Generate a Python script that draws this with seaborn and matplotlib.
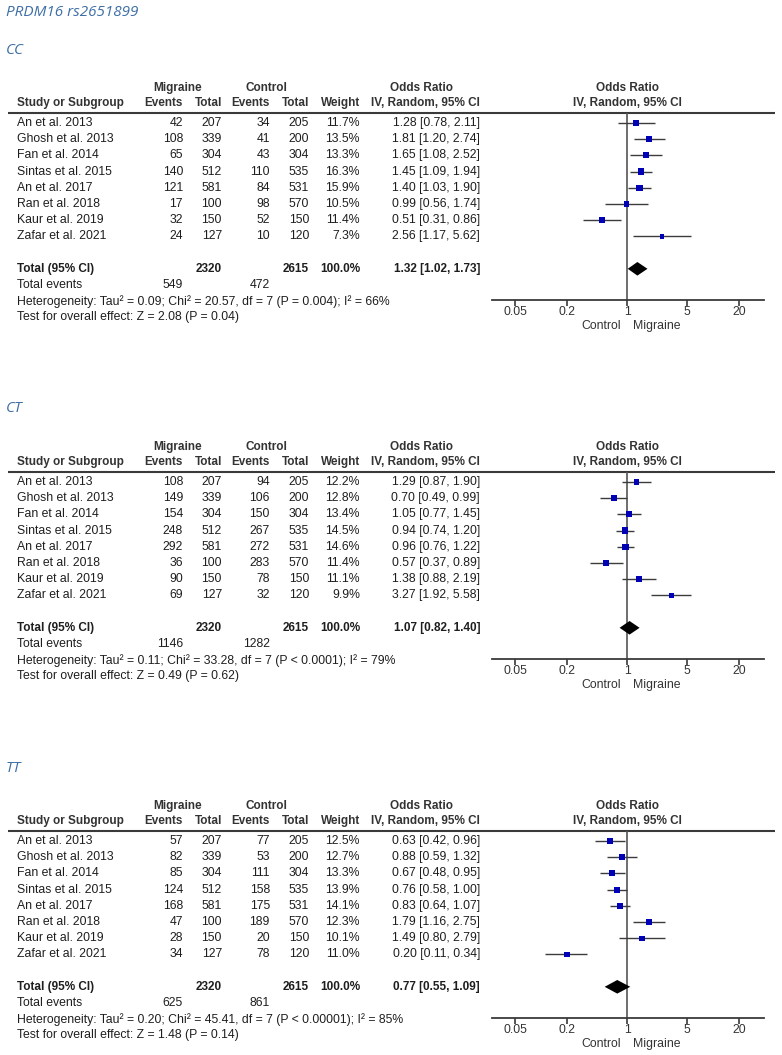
import matplotlib
matplotlib.use("Agg")
import numpy as np
import pandas as pd
import seaborn as sns
import matplotlib.pyplot as plt
from matplotlib.ticker import NullLocator

# data
studies = ["An et al. 2013", "Ghosh et al. 2013", "Fan et al. 2014", "Sintas et al. 2015",
           "An et al. 2017", "Ran et al. 2018", "Kaur et al. 2019", "Zafar et al. 2021"]
mig_total = [207, 339, 304, 512, 581, 100, 150, 127]
ctl_total = [205, 200, 304, 535, 531, 570, 150, 120]
total_weight = 100.0

cc_mig_events = [42, 108, 65, 140, 121, 17, 32, 24]
cc_ctl_events = [34, 41, 43, 110, 84, 98, 52, 10]
cc_weight = [11.7, 13.5, 13.3, 16.3, 15.9, 10.5, 11.4, 7.3]
cc_or = [1.28, 1.81, 1.65, 1.45, 1.40, 0.99, 0.51, 2.56]
cc_lo = [0.78, 1.20, 1.08, 1.09, 1.03, 0.56, 0.31, 1.17]
cc_hi = [2.11, 2.74, 2.52, 1.94, 1.90, 1.74, 0.86, 5.62]
cc_total = [1.32, 1.02, 1.73]
cc_total_events = [549, 472]
cc_het = "Heterogeneity: Tau² = 0.09; Chi² = 20.57, df = 7 (P = 0.004); I² = 66%"
cc_test = "Test for overall effect: Z = 2.08 (P = 0.04)"

ct_mig_events = [108, 149, 154, 248, 292, 36, 90, 69]
ct_ctl_events = [94, 106, 150, 267, 272, 283, 78, 32]
ct_weight = [12.2, 12.8, 13.4, 14.5, 14.6, 11.4, 11.1, 9.9]
ct_or = [1.29, 0.70, 1.05, 0.94, 0.96, 0.57, 1.38, 3.27]
ct_lo = [0.87, 0.49, 0.77, 0.74, 0.76, 0.37, 0.88, 1.92]
ct_hi = [1.90, 0.99, 1.45, 1.20, 1.22, 0.89, 2.19, 5.58]
ct_total = [1.07, 0.82, 1.40]
ct_total_events = [1146, 1282]
ct_het = "Heterogeneity: Tau² = 0.11; Chi² = 33.28, df = 7 (P < 0.0001); I² = 79%"
ct_test = "Test for overall effect: Z = 0.49 (P = 0.62)"

tt_mig_events = [57, 82, 85, 124, 168, 47, 28, 34]
tt_ctl_events = [77, 53, 111, 158, 175, 189, 20, 78]
tt_weight = [12.5, 12.7, 13.3, 13.9, 14.1, 12.3, 10.1, 11.0]
tt_or = [0.63, 0.88, 0.67, 0.76, 0.83, 1.79, 1.49, 0.20]
tt_lo = [0.42, 0.59, 0.48, 0.58, 0.64, 1.16, 0.80, 0.11]
tt_hi = [0.96, 1.32, 0.95, 1.00, 1.07, 2.75, 2.79, 0.34]
tt_total = [0.77, 0.55, 1.09]
tt_total_events = [625, 861]
tt_het = "Heterogeneity: Tau² = 0.20; Chi² = 45.41, df = 7 (P < 0.00001); I² = 85%"
tt_test = "Test for overall effect: Z = 1.48 (P = 0.14)"

tick_vals = [0.05, 0.2, 1, 5, 20]
tick_labels = ["0.05", "0.2", "1", "5", "20"]

panels = [
    ("CC", cc_mig_events, cc_ctl_events, cc_weight, cc_or, cc_lo, cc_hi, cc_total, cc_total_events, cc_het, cc_test),
    ("CT", ct_mig_events, ct_ctl_events, ct_weight, ct_or, ct_lo, ct_hi, ct_total, ct_total_events, ct_het, ct_test),
    ("TT", tt_mig_events, tt_ctl_events, tt_weight, tt_or, tt_lo, tt_hi, tt_total, tt_total_events, tt_het, tt_test),
]

sns.set_theme(style="white")
plt.rcParams["font.family"] = ["Liberation Sans", "DejaVu Sans"]

W, H = 782, 1055
fig = plt.figure(figsize=(W / 100, H / 100), dpi=100)
fig.patch.set_facecolor("white")

tab = fig.add_axes([0, 0, 1, 1])
tab.set_xlim(0, W)
tab.set_ylim(H, 0)
tab.axis("off")

BLUE_T = "#3d6ea6"
TXT = "#1e1e1e"
HDR = "#333333"
FS = 8.5
FSN = 8.85
ROW = 16.2
PANEL = 359

tab.text(6, 12, "PRDM16 rs2651899", fontsize=11, style="italic", color=BLUE_T,
         family=["Open Sans", "DejaVu Sans"], va="center", ha="left")

# column right edges
c_me, c_mt, c_ce, c_ct, c_w, c_or = 183, 222, 270, 309, 360, 480

for p, (lab, me, ce, w, orv, lo, hi, tot, tev, het, test) in enumerate(panels):
    off = PANEL * p
    base = 123 + off

    tab.text(6, 50 + off, lab, fontsize=11, style="italic", color=BLUE_T,
             family=["Open Sans", "DejaVu Sans"], va="center", ha="left")

    # headers
    hb = dict(fontsize=FS, fontweight="bold", color=HDR, va="center")
    tab.text(178, base - 35, "Migraine", ha="center", **hb)
    tab.text(266, base - 35, "Control", ha="center", **hb)
    tab.text(421, base - 35, "Odds Ratio", ha="center", **hb)
    tab.text(627, base - 35, "Odds Ratio", ha="center", **hb)
    tab.text(17, base - 20, "Study or Subgroup", ha="left", **hb)
    tab.text(c_me, base - 20, "Events", ha="right", **hb)
    tab.text(c_mt, base - 20, "Total", ha="right", **hb)
    tab.text(c_ce, base - 20, "Events", ha="right", **hb)
    tab.text(c_ct, base - 20, "Total", ha="right", **hb)
    tab.text(c_w, base - 20, "Weight", ha="right", **hb)
    tab.text(c_or, base - 20, "IV, Random, 95% CI", ha="right", **hb)
    tab.text(627, base - 20, "IV, Random, 95% CI", ha="center", **hb)
    tab.plot([8, 775], [base - 10, base - 10], color="#3a3a3a", lw=1.5, solid_capstyle="butt")

    nt = dict(fontsize=FSN, color=TXT, va="center")
    for i, s in enumerate(studies):
        y = base + i * ROW
        tab.text(17, y, s, ha="left", **nt)
        tab.text(c_me, y, f"{me[i]}", ha="right", **nt)
        tab.text(c_mt, y, f"{mig_total[i]}", ha="right", **nt)
        tab.text(c_ce, y, f"{ce[i]}", ha="right", **nt)
        tab.text(c_ct, y, f"{ctl_total[i]}", ha="right", **nt)
        tab.text(c_w, y, f"{w[i]:.1f}%", ha="right", **nt)
        tab.text(c_or, y, f"{orv[i]:.2f} [{lo[i]:.2f}, {hi[i]:.2f}]", ha="right", **nt)

    yt = base + 9 * ROW
    bt = dict(fontsize=FS, fontweight="bold", color=TXT, va="center")
    tab.text(17, yt, "Total (95% CI)", ha="left", **bt)
    tab.text(c_mt, yt, f"{sum(mig_total)}", ha="right", **bt)
    tab.text(c_ct, yt, f"{sum(ctl_total)}", ha="right", **bt)
    tab.text(c_w, yt, f"{total_weight:.1f}%", ha="right", **bt)
    tab.text(c_or, yt, f"{tot[0]:.2f} [{tot[1]:.2f}, {tot[2]:.2f}]", ha="right", **bt)
    tab.text(17, base + 10 * ROW, "Total events", ha="left", **nt)
    tab.text(c_me, base + 10 * ROW, f"{tev[0]}", ha="right", **nt)
    tab.text(c_ce, base + 10 * ROW, f"{tev[1]}", ha="right", **nt)
    tab.text(17, base + 11 * ROW, het, ha="left", **nt)
    tab.text(17, base + 12 * ROW, test, ha="left", **nt)

    tab.text(621, 326 + off, "Control", ha="right", fontsize=FSN, color=HDR, va="center")
    tab.text(633, 326 + off, "Migraine", ha="left", fontsize=FSN, color=HDR, va="center")

    # forest plot
    ax = fig.add_axes([492 / W, 1 - (300 + off) / H, (764 - 492) / W, (300 - 113) / H])
    ax.set_facecolor("none")
    ax.set_xscale("log")
    ax.set_xlim(10 ** -1.57, 10 ** 1.593)
    ax.set_ylim((300 - 123) / ROW, (113 - 123) / ROW)

    df = pd.DataFrame({"or": orv, "lo": lo, "hi": hi, "w": w, "row": np.arange(len(studies))})
    ax.axvline(1, color="#555555", lw=1.2, zorder=1)
    ax.hlines(df["row"], df["lo"], df["hi"], color="#3c3c3c", lw=1.0, zorder=2)
    sns.scatterplot(data=df, x="or", y="row", size="w", sizes=(min(w) * 1.4, max(w) * 1.4),
                    marker="s", color="#0000b4", edgecolor="none", legend=False, ax=ax, zorder=3)
    ax.fill([tot[1], tot[0], tot[2], tot[0]], [9, 9 - 0.42, 9, 9 + 0.42], color="black", zorder=4, lw=0)

    ax.set_xticks(tick_vals)
    ax.set_xticklabels(tick_labels)
    ax.xaxis.set_minor_locator(NullLocator())
    ax.set_yticks([])
    ax.set_xlabel("")
    ax.set_ylabel("")
    for sp in ["top", "left", "right"]:
        ax.spines[sp].set_visible(False)
    ax.spines["bottom"].set_color("#3a3a3a")
    ax.spines["bottom"].set_linewidth(1.3)
    ax.tick_params(axis="x", direction="out", length=4, width=1.2, color="#3a3a3a",
                   labelsize=FSN, labelcolor=HDR, pad=0.5, bottom=True)

fig.savefig("out.png", dpi=100, facecolor="white")
